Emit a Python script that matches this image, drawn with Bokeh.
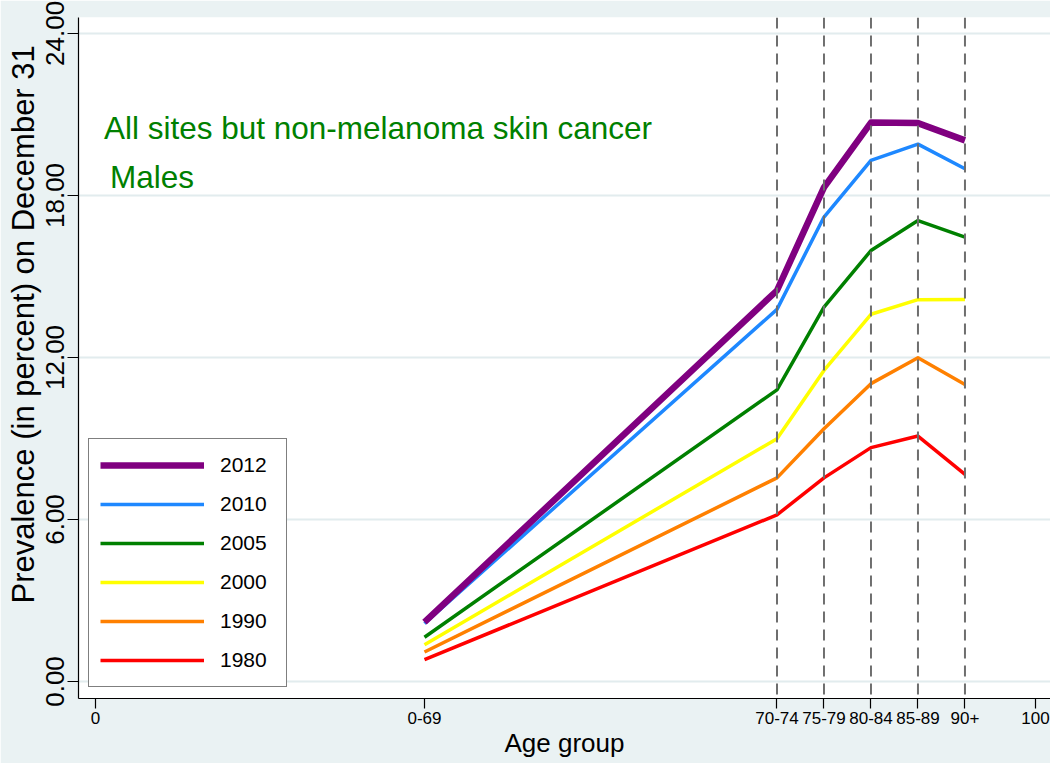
from bokeh.plotting import figure
from bokeh.models import (Range1d, FixedTicker, Span, Label, Legend, LegendItem,
                          PrintfTickFormatter, Title)
from bokeh.embed import file_html
from bokeh.resources import INLINE

# ---- data ----
age_groups = ["0-69", "70-74", "75-79", "80-84", "85-89", "90+"]
age_pos = [35, 72.5, 77.5, 82.5, 87.5, 92.5]
prev_2012 = [2.20, 14.48, 18.30, 20.70, 20.68, 20.04]
prev_2010 = [2.15, 13.78, 17.20, 19.30, 19.90, 18.99]
prev_2005 = [1.64, 10.80, 13.86, 15.96, 17.07, 16.46]
prev_2000 = [1.36, 8.99, 11.52, 13.60, 14.14, 14.15]
prev_1990 = [1.09, 7.54, 9.36, 11.03, 11.99, 11.00]
prev_1980 = [0.81, 6.17, 7.54, 8.66, 9.09, 7.67]
y_ticks = [0, 6, 12, 18, 24]
x_end_ticks = [0, 100]

FONT = "Liberation Sans"
BG = "#EAF2F3"

p = figure(width=1050, height=763, output_backend="svg", toolbar_location=None,
           x_range=Range1d(-1.81, 101.6), y_range=Range1d(-0.63, 24.59),
           min_border_left=78, min_border_right=0, min_border_top=17, min_border_bottom=65,
           background_fill_color="white", border_fill_color=BG, outline_line_color=None)

# grid
p.xgrid.visible = False
p.ygrid.ticker = FixedTicker(ticks=y_ticks)
p.ygrid.grid_line_color = "#E2ECEE"
p.ygrid.grid_line_width = 2

# axes
xticks = [x_end_ticks[0]] + age_pos + [x_end_ticks[1]]
overrides = {float(x_end_ticks[0]): "0", float(x_end_ticks[1]): "100"}
for a, pos in zip(age_groups, age_pos):
    overrides[float(pos)] = a
p.xaxis.ticker = FixedTicker(ticks=xticks)
p.xaxis.major_label_overrides = overrides
p.yaxis.ticker = FixedTicker(ticks=y_ticks)
p.yaxis.formatter = PrintfTickFormatter(format="%.2f")
p.yaxis.major_label_orientation = "vertical"

for ax in (p.xaxis, p.yaxis):
    ax.axis_line_color = "black"
    ax.axis_line_width = 1.2
    ax.major_tick_line_color = "black"
    ax.major_tick_line_width = 1.2
    ax.major_tick_in = 0
    ax.minor_tick_line_color = None
    ax.major_label_text_font = FONT
    ax.major_label_text_color = "black"
    ax.axis_label_text_font = FONT
    ax.axis_label_text_font_style = "normal"
    ax.axis_label_text_color = "black"

p.xaxis.major_tick_out = 10
p.xaxis.major_label_text_font_size = "17px"
p.xaxis.major_label_standoff = 3
p.xaxis.axis_label = "Age group"
p.xaxis.axis_label_text_font_size = "26px"
p.xaxis.axis_label_standoff = 1

p.yaxis.major_tick_out = 11
p.yaxis.major_label_text_font_size = "26px"
p.yaxis.major_label_standoff = 3

# y axis title placed in the left panel (starts near the bottom, like the original)
p.add_layout(Title(text="Prevalence (in percent) on December 31", align="left", offset=95,
                   text_font=FONT, text_font_size="31px", text_font_style="normal",
                   text_color="black", standoff=6), "left")

# vertical dashed lines at the older age groups
for pos in age_pos[1:]:
    p.add_layout(Span(location=pos, dimension="height", line_color="#6E6E6E",
                      line_width=2, line_dash="11 7"))

# series
series = [
    ("1980", prev_1980, "#FF0000", 3.5),
    ("1990", prev_1990, "#FF8000", 3.5),
    ("2000", prev_2000, "#FFFF00", 3.5),
    ("2005", prev_2005, "#008000", 3.5),
    ("2010", prev_2010, "#1E88FF", 3.5),
    ("2012", prev_2012, "#800080", 6.5),
]
renderers = {}
for name, vals, col, w in series:
    renderers[name] = p.line(age_pos, vals, line_color=col, line_width=w, line_join="round")

legend = Legend(items=[LegendItem(label=n, renderers=[renderers[n]])
                       for n in ["2012", "2010", "2005", "2000", "1990", "1980"]],
                location=(10, 11), orientation="vertical",
                glyph_width=104, glyph_height=30, label_height=30, label_width=55,
                label_standoff=16, spacing=9, padding=11, margin=0,
                label_text_font=FONT, label_text_font_size="21px", label_text_color="black",
                border_line_color="black", border_line_width=1.2,
                background_fill_color="white", background_fill_alpha=1.0)
p.add_layout(legend)

# annotation text
p.add_layout(Label(x=0.9, y=20.49, text="All sites but non-melanoma skin cancer",
                   text_font=FONT, text_font_size="31.5px", text_color="#008000",
                   text_baseline="alphabetic"))
p.add_layout(Label(x=1.55, y=18.70, text="Males",
                   text_font=FONT, text_font_size="31.5px", text_color="#008000",
                   text_baseline="alphabetic"))

open("out.html", "w").write(file_html(p, INLINE))
